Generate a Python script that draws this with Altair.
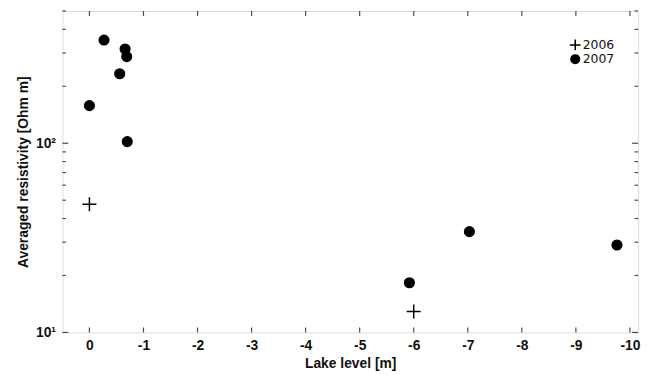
import altair as alt
import pandas as pd

# Data
lake_2006 = [0.0, -6.0]
res_2006 = [47.6, 12.9]
lake_2007 = [0.0, -0.27, -0.56, -0.66, -0.69, -0.70, -5.92, -7.03, -9.76]
res_2007 = [158, 351, 233, 315, 287, 102, 18.3, 34.1, 29.0]
years = ["2006", "2007"]

x_ticks = [0, -1, -2, -3, -4, -5, -6, -7, -8, -9, -10]
y_major = [10, 100]
y_minor = [20, 30, 40, 50, 60, 70, 80, 90, 200, 300, 400, 500]

W, H = 582, 325
FONT = "Liberation Sans"
AX = "#4a4a4a"
TXT = "#111111"

rows = [{"x": a, "y": b, "year": "2006"} for a, b in zip(lake_2006, res_2006)]
rows += [{"x": a, "y": b, "year": "2007"} for a, b in zip(lake_2007, res_2007)]
df = pd.DataFrame(rows)

xscale = alt.Scale(domain=[-10.15, 0.5], reverse=True, nice=False, zero=False)
yscale = alt.Scale(type="log", domain=[10, 500], nice=False)

plus_path = "M-1.45,0L1.45,0M0,-1.45L0,1.45"
shape_scale = alt.Scale(domain=years, range=[plus_path, "circle"])

points = alt.Chart(df).mark_point(
    filled=True, fill="black", stroke="black", strokeWidth=1.5, opacity=1, size=95
).encode(
    x=alt.X("x:Q", scale=xscale, axis=alt.Axis(
        values=x_ticks, title="Lake level [m]", tickSize=0, grid=False, domain=False,
        labelFont=FONT, labelFontSize=14, labelFontWeight="bold", labelColor=TXT,
        labelPadding=6, titleFont=FONT, titleFontSize=14, titleFontWeight="bold",
        titleColor=TXT, titlePadding=4, labelExpr="'' + datum.value")),
    y=alt.Y("y:Q", scale=yscale, axis=alt.Axis(
        values=y_major, title="Averaged resistivity [Ohm m]", tickSize=0, grid=False,
        domain=False, labelFont=FONT, labelFontSize=14, labelFontWeight="bold",
        labelColor=TXT, labelPadding=7, labelExpr="datum.value == 10 ? '10¹' : '10²'",
        titleFont=FONT, titleFontSize=14, titleFontWeight="bold", titleColor=TXT,
        titlePadding=5)),
    shape=alt.Shape("year:N", scale=shape_scale, legend=None),
)

xt = pd.DataFrame({"x": x_ticks})
ymaj = pd.DataFrame({"y": y_major})
ymin = pd.DataFrame({"y": y_minor})

def xr(y1, y2):
    return alt.Chart(xt).mark_rule(color=AX, strokeWidth=1.2).encode(
        x=alt.X("x:Q", scale=xscale), y=alt.value(y1), y2=alt.value(y2))

def yr(d, x1, x2):
    return alt.Chart(d).mark_rule(color=AX, strokeWidth=1.2).encode(
        y=alt.Y("y:Q", scale=yscale), x=alt.value(x1), x2=alt.value(x2))

ticks = [
    xr(H, H - 5), xr(0, 5),
    yr(ymaj, 0, 6), yr(ymaj, W, W - 6),
    yr(ymin, 0, 3.5), yr(ymin, W, W - 3.5),
]

# Manual legend (top right, inside the frame)
legend_layers = []
for i, yr_name in enumerate(years):
    ly = 34.3 + i * 14.4
    d = pd.DataFrame({"year": [yr_name]})
    legend_layers.append(
        alt.Chart(d).mark_point(filled=True, fill="black", stroke="black",
                                strokeWidth=1.5, opacity=1, size=[55, 75][i]).encode(
            shape=alt.Shape("year:N", scale=shape_scale, legend=None),
            x=alt.value(518.5), y=alt.value(ly)))
    legend_layers.append(
        alt.Chart(d).mark_text(align="left", baseline="middle", font="DejaVu Sans",
                               fontSize=12.5, color=TXT).encode(
            text="year:N", x=alt.value(526), y=alt.value(ly)))

chart = alt.layer(*ticks, points, *legend_layers).properties(
    width=W, height=H,
    autosize=alt.AutoSizeParams(type="none"),
    padding={"left": 55, "top": 1, "right": 4, "bottom": 40},
).configure_view(stroke=AX, strokeWidth=1.5).configure(background="white")

chart.save("out.html", embed_options={"renderer": "svg", "actions": False})
